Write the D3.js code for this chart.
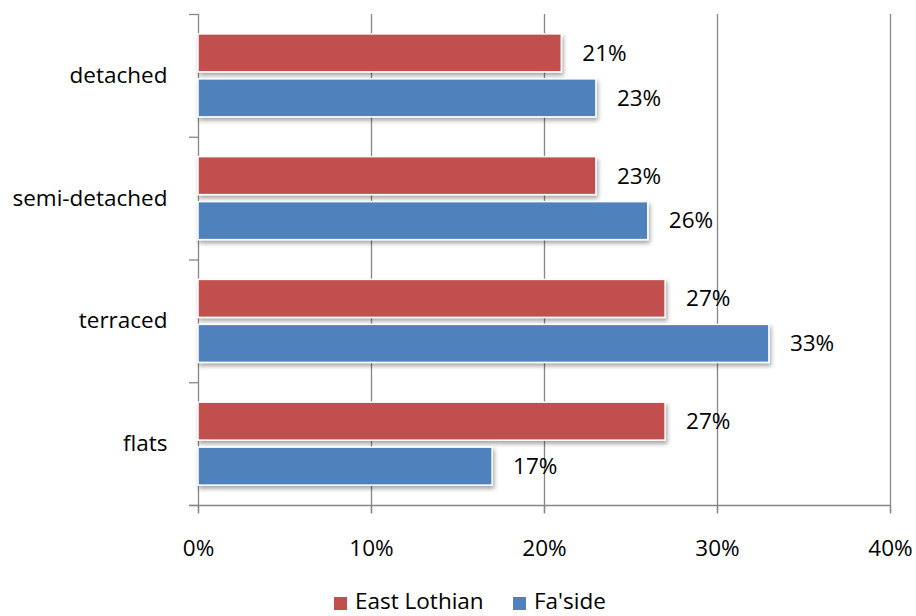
<!DOCTYPE html>
<html><head><meta charset="utf-8">
<script src="https://cdn.jsdelivr.net/npm/d3@7"></script>
<style>body{margin:0;background:#fff;} text{font-family:"Open Sans", Lato, sans-serif;fill:#000;}</style>
</head><body>
<svg id="c" width="916" height="616"></svg>
<script>
const categories = ["detached", "semi-detached", "terraced", "flats"];
const seriesNames = ["East Lothian", "Fa'side"];
const eastLothian = [21, 23, 27, 27];
const fasideVals = [23, 26, 33, 17];
const xTicks = [0, 10, 20, 30, 40];
const colors = ["#C0504D", "#4F81BD"];

const FS = "22.5px";
const svg = d3.select("#c");
const x = d3.scaleLinear().domain([0, 40]).range([198, 890]);
const y = d3.scaleBand().domain(categories).range([14, 505]).paddingInner(0).paddingOuter(0);
const inner = d3.scaleBand().domain(seriesNames).range([0, y.bandwidth()]).paddingInner(7/45).paddingOuter(0.442);

const defs = svg.append("defs");
const f = defs.append("filter").attr("id","sh").attr("x","-5%").attr("y","-20%").attr("width","115%").attr("height","160%");
f.append("feDropShadow").attr("dx",1.5).attr("dy",3).attr("stdDeviation",2).attr("flood-color","#000").attr("flood-opacity",0.35);

// gridlines
svg.append("g").selectAll("line").data(xTicks.slice(1)).join("line")
  .attr("x1", d => x(d)+0.5).attr("x2", d => x(d)+0.5)
  .attr("y1", 14).attr("y2", 513)
  .attr("stroke", "#868686").attr("stroke-width", 1.3);

// x axis
const xAxis = d3.axisBottom(x).tickValues(xTicks).tickFormat(d => d + "%").tickSize(8).tickSizeOuter(0).tickPadding(27);
const gx = svg.append("g").attr("transform", "translate(0,505.5)").call(xAxis);
gx.select(".domain").remove();
gx.append("line").attr("x1", 189).attr("x2", 890).attr("stroke", "#868686").attr("stroke-width",1.3);
gx.selectAll(".tick line").attr("stroke", "#868686").attr("stroke-width",1.3);
gx.selectAll(".tick text").style("font-size",FS).attr("fill","#000").style("font-family","Open Sans");

// y axis
const yAxis = d3.axisLeft(y).tickSize(0).tickPadding(30);
const gy = svg.append("g").attr("transform", "translate(198.5,0)").call(yAxis);
gy.select(".domain").attr("stroke", "#868686").attr("stroke-width",1.3).attr("d","M0,14V513");
gy.selectAll(".tick text").style("font-size",FS).attr("fill","#000").style("font-family","Open Sans").attr("x",-31).attr("dy","0.33em");
const bounds = categories.map(c => y(c)).concat([y.range()[1]]);
svg.append("g").selectAll("line").data(bounds).join("line")
  .attr("x1", 189).attr("x2", 198).attr("y1", d => d+0.5).attr("y2", d => d+0.5)
  .attr("stroke", "#868686").attr("stroke-width",1.3);

// bars
const rows = [];
categories.forEach((c, i) => {
  rows.push({c, s: seriesNames[0], v: eastLothian[i], col: colors[0]});
  rows.push({c, s: seriesNames[1], v: fasideVals[i], col: colors[1]});
});
const gb = svg.append("g");
gb.selectAll("rect").data(rows).join("rect")
  .attr("x", x(0)).attr("y", d => y(d.c) + inner(d.s))
  .attr("width", d => x(d.v) - x(0)).attr("height", inner.bandwidth())
  .attr("fill", d => d.col).attr("stroke", "#fff").attr("stroke-width", 1.5)
  .attr("filter", "url(#sh)");
gb.selectAll("text").data(rows).join("text")
  .attr("x", d => x(d.v) + 21).attr("y", d => y(d.c) + inner(d.s) + inner.bandwidth()/2)
  .attr("dy", "0.35em").style("font-size",FS).text(d => d.v + "%");

// legend
const lg = svg.append("g").attr("transform","translate(334,609)");
const items = [{n: seriesNames[0], c: colors[0], x: 0}, {n: seriesNames[1], c: colors[1], x: 179}];
items.forEach(it => {
  lg.append("rect").attr("x", it.x).attr("y", -12).attr("width", 13).attr("height", 13).attr("fill", it.c);
  lg.append("text").attr("x", it.x + 21).attr("y", 0).style("font-size",FS).text(it.n);
});
</script>
</body></html>
